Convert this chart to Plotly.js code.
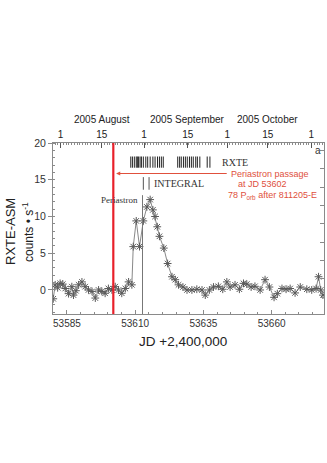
<!DOCTYPE html>
<html>
<head>
<meta charset="utf-8">
<script src="https://cdn.plot.ly/plotly-3.0.1.min.js"></script>
<style>
  html, body { margin: 0; padding: 0; background: #fff; }
  #chart { width: 327px; height: 463px; }
</style>
</head>
<body>
<div id="chart"></div>
<script>
// RXTE-ASM light curve (JD - 2,400,000 vs counts/s)
const jd = [53580.0, 53580.7, 53581.6, 53582.5, 53583.5, 53584.4, 53585.6, 53586.8, 53587.4, 53588.3,
  53589.3, 53590.5, 53591.7, 53592.9, 53594.2, 53595.4, 53596.6, 53597.8, 53599.0, 53600.2,
  53601.5, 53602.7, 53603.9, 53605.1, 53606.4, 53607.6, 53608.8, 53609.3, 53610.4, 53611.6,
  53613.0, 53614.3, 53615.5, 53616.5, 53617.3, 53618.1, 53618.9, 53620.5, 53621.9, 53623.5,
  53624.7, 53625.9, 53627.5, 53629.0, 53630.8, 53632.6, 53634.5, 53635.7, 53637.2, 53638.7,
  53640.5, 53642.1, 53643.6, 53644.8, 53646.6, 53648.2, 53649.7, 53650.9, 53652.5, 53653.9,
  53655.8, 53657.6, 53659.2, 53660.9, 53662.1, 53663.8, 53665.3, 53666.8, 53668.6, 53670.5,
  53672.9, 53674.7, 53676.3, 53677.2, 53678.0, 53678.8];
const rate = [-1.2, 0.7, 0.3, 0.9, 0.8, 0.2, -0.5, 0.45, -0.7, -0.1,
  0.7, 1.1, 0.45, 0, -0.2, -1.1, 0, -0.2, -0.45, 0.2,
  0, 0.45, 0, -0.45, 0.2, 1.1, 0.7, 5.9, 9.4, 5.9,
  9.4, 11.3, 12.3, 10.9, 10.0, 8.6, 7.3, 5.7, 3.6, 1.8,
  1.4, 0.7, 0.4, 0, 0, 0.1, 0, -0.7, 0, 0.4,
  0.5, 0.1, 1.1, 0.4, 0.7, 0.1, 0.9, 0.8, 0.4, 0.5,
  0, 1.4, 0.4, -1.0, -0.5, 0.2, 0.1, 0.2, -0.4, 0.4,
  0.1, 0, 0.2, 1.8, 0, -0.7];

// pointed observations
const rxteDays = [53608.4, 53609.0, 53609.7, 53610.4, 53610.8, 53611.2, 53611.8, 53612.3, 53613.0, 53613.9,
  53614.6, 53615.5, 53616.5, 53617.3, 53618.2, 53618.9, 53619.6, 53620.3,
  53625.6, 53626.3, 53626.9, 53627.7, 53628.4, 53629.1, 53629.9, 53630.6, 53631.3, 53632.2,
  53632.8, 53633.7, 53636.4, 53637.4];
const integralDays = [53613.0, 53615.1];

// calendar axis
const dateTickJD = [53582.7, 53597.8, 53613.3, 53629.3, 53643.8, 53658.6, 53674.5];
const dateTickText = ['1', '15', '1', '15', '1', '15', '1'];
const monthJD = [53597.8, 53629.3, 53658.6];
const monthNames = ['2005 August', '2005 September', '2005 October'];

const periastronJD = 53602;
const periastronMarkJD = 53612.7;

const xRange = [53579.9, 53679.2];
const yRange = [-3.27, 20];
const sans = 'Liberation Sans, Arial, sans-serif';
const serif = 'Liberation Serif, Times New Roman, serif';
const red = '#e0503c';

let traces = [
  {
    x: jd, y: rate, type: 'scatter', mode: 'lines+markers',
    line: {color: '#6a6a6a', width: 0.8},
    marker: {symbol: 'asterisk-open', size: 6.5, color: '#5a5a5a', line: {color: '#5a5a5a', width: 1}},
    hoverinfo: 'skip'
  },
  {
    x: rxteDays, y: rxteDays.map(() => 17.4), type: 'scatter', mode: 'markers',
    marker: {symbol: 'line-ns-open', size: 8, color: '#222', line: {color: '#222', width: 1}}
  },
  {
    x: integralDays, y: integralDays.map(() => 14.5), type: 'scatter', mode: 'markers',
    marker: {symbol: 'line-ns-open', size: 9, color: '#555', line: {color: '#555', width: 1}}
  },
  // top calendar axis carrier
  {x: xRange, y: [null, null], xaxis: 'x2', yaxis: 'y', type: 'scatter', mode: 'markers', hoverinfo: 'skip'},
  // right axis carrier
  {x: [null], y: [null], xaxis: 'x', yaxis: 'y2', type: 'scatter', mode: 'markers', hoverinfo: 'skip'}
];

const plotTop = 143, plotBottom = 314, plotH = plotBottom - plotTop;
const py = p => (plotBottom - p) / plotH;
const plotLeft = 53, plotW = 327 - 3 - plotLeft;
const px = p => (p - plotLeft) / plotW;

function label(opts) {
  return Object.assign({showarrow: false, xanchor: 'center', yanchor: 'middle'}, opts);
}

let annotations = [
  label({xref: 'paper', yref: 'paper', x: px(10), y: py(232), text: 'RXTE-ASM', textangle: -90,
   font: {family: sans, size: 13, color: '#222'}}),
  label({xref: 'paper', yref: 'paper', x: px(28), y: py(232), text: 'counts • s<sup>-1</sup>', textangle: -90,
   font: {family: sans, size: 12, color: '#222'}}),
  label({xref: 'paper', yref: 'paper', x: px(183), y: py(341), text: 'JD +2,400,000',
   font: {family: sans, size: 13.5, color: '#222'}}),
  label({xref: 'x', yref: 'y', x: 53641.1, y: 17.4, text: 'RXTE', xanchor: 'left',
   font: {family: serif, size: 10, color: '#333'}}),
  label({xref: 'x', yref: 'y', x: 53616.0, y: 14.5, text: 'INTEGRAL', xanchor: 'left',
   font: {family: serif, size: 10, color: '#333'}}),
  label({xref: 'x', yref: 'y', x: 53611.8, y: 12.3, text: 'Periastron', xanchor: 'right',
   font: {family: serif, size: 9, color: '#333'}}),
  label({xref: 'paper', yref: 'y', x: px(318), y: 19.0, text: 'a',
   font: {family: sans, size: 10, color: '#333'}}),
  {xref: 'x', yref: 'y', x: 53603, y: 15.85, ax: 53644.1, ay: 15.85, axref: 'x', ayref: 'y',
   text: '', showarrow: true, arrowhead: 2, arrowsize: 0.7, arrowwidth: 1.2, arrowcolor: red},
  label({xref: 'x', yref: 'y', x: 53659.3, y: 15.8, text: 'Periastron passage',
   font: {family: sans, size: 9, color: red}}),
  label({xref: 'x', yref: 'y', x: 53656.5, y: 14.45, text: 'at JD 53602',
   font: {family: sans, size: 9, color: red}}),
  label({xref: 'x', yref: 'y', x: 53660.2, y: 12.85, text: '78 P<sub>orb</sub> after 811205-E',
   font: {family: sans, size: 9, color: red}})
];
monthNames.forEach((m, i) => annotations.push(label({
  xref: 'x', yref: 'paper', x: monthJD[i], y: py(119.5), text: m,
  font: {family: sans, size: 10, color: '#222'}
})));

let shapes = [
  {type: 'line', xref: 'x', yref: 'paper', x0: periastronJD, x1: periastronJD, y0: 0, y1: 1,
   line: {color: '#e8202a', width: 2.2}},
  {type: 'line', xref: 'x', yref: 'y', x0: periastronMarkJD, x1: periastronMarkJD, y0: yRange[0], y1: 12.9,
   line: {color: '#777', width: 1}}
];

const axisLine = '#8a8a8a';
let layout = {
  width: 327, height: 463,
  margin: {l: plotLeft, r: 3, t: plotTop, b: 463 - plotBottom, pad: 0},
  paper_bgcolor: '#fff', plot_bgcolor: '#fff',
  showlegend: false,
  font: {family: sans, size: 10, color: '#333'},
  xaxis: {
    range: xRange, showgrid: false, zeroline: false,
    showline: true, linecolor: axisLine, linewidth: 1,
    tickmode: 'linear', tick0: 53585, dtick: 25, tickformat: 'd',
    ticks: 'inside', ticklen: 4, tickcolor: axisLine,
    tickfont: {family: sans, size: 10, color: '#333'},
    minor: {ticks: 'inside', dtick: 5, tick0: 53585, ticklen: 2, tickcolor: axisLine}
  },
  xaxis2: {
    overlaying: 'x', side: 'top', range: xRange, showgrid: false, zeroline: false,
    showline: true, linecolor: axisLine, linewidth: 1,
    tickmode: 'array', tickvals: dateTickJD, ticktext: dateTickText,
    ticks: 'inside', ticklen: 5, tickcolor: '#555',
    tickfont: {family: sans, size: 10, color: '#222'},
    minor: {ticks: 'inside', tickmode: 'linear', tick0: 53582.7, dtick: 1, ticklen: 2, tickcolor: axisLine}
  },
  yaxis: {
    range: yRange, showgrid: false, zeroline: false,
    showline: true, linecolor: axisLine, linewidth: 1,
    tickmode: 'linear', tick0: 0, dtick: 5,
    ticks: 'outside', ticklen: 4, tickcolor: axisLine,
    tickfont: {family: sans, size: 10.5, color: '#333'},
    minor: {ticks: 'inside', dtick: 1, ticklen: 2, tickcolor: axisLine}
  },
  yaxis2: {
    overlaying: 'y', side: 'right', range: yRange, showgrid: false, zeroline: false,
    showline: true, linecolor: axisLine, linewidth: 1, showticklabels: false,
    tickmode: 'linear', tick0: -1, dtick: 2.5,
    ticks: 'inside', ticklen: 4, tickcolor: axisLine
  },
  annotations: annotations,
  shapes: shapes
};

Plotly.newPlot('chart', traces, layout, {displayModeBar: false, staticPlot: true});
</script>
</body>
</html>
